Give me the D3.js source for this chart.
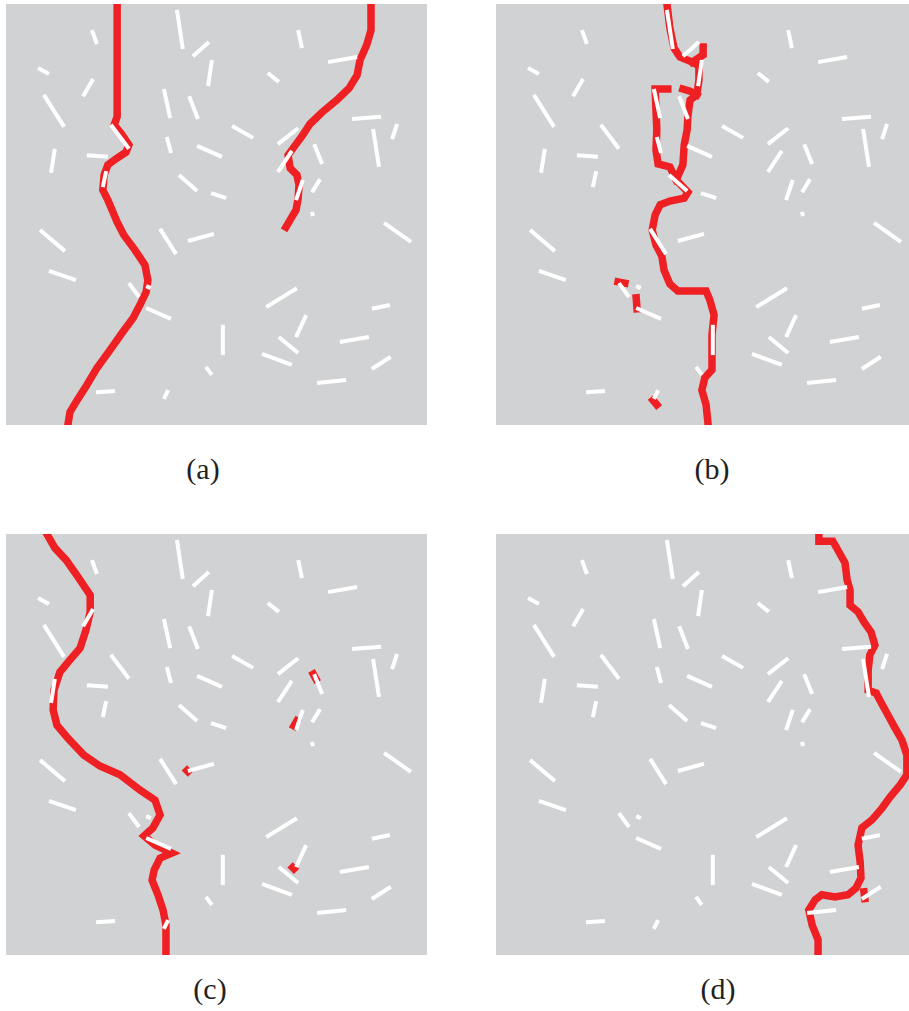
<!DOCTYPE html>
<html>
<head>
<meta charset="utf-8">
<script src="https://cdn.jsdelivr.net/npm/d3@7"></script>
<style>
  body { margin: 0; background: #fff; }
</style>
</head>
<body>
<svg width="909" height="1011"></svg>
<script>
// grid units 0-100 in each panel, [x1, y1, x2, y2]
var segments = [
  [40.6, 1.4, 42.0, 10.7], [20.4, 6.2, 21.6, 9.5], [44.4, 12.4, 48.2, 9.0],
  [48.9, 13.3, 48.0, 19.5], [7.6, 15.2, 10.2, 16.6], [20.7, 17.8, 18.3, 21.9],
  [9.0, 21.6, 13.8, 29.2], [37.5, 20.2, 39.0, 27.1], [43.5, 21.9, 45.6, 27.3],
  [24.9, 28.7, 29.2, 34.4], [38.2, 31.6, 39.2, 35.4], [45.4, 33.7, 51.3, 36.3],
  [11.6, 34.4, 10.7, 40.1], [19.2, 35.9, 24.2, 36.3], [23.8, 39.7, 23.0, 43.5],
  [41.1, 40.6, 45.4, 44.4], [48.7, 44.9, 52.3, 46.1], [69.4, 6.2, 70.3, 10.5],
  [76.5, 13.8, 83.4, 12.6], [62.2, 16.4, 64.8, 18.5], [53.7, 29.0, 58.7, 31.8],
  [64.6, 33.3, 69.4, 29.5], [82.2, 27.3, 89.1, 26.8], [92.9, 28.5, 91.7, 32.1],
  [87.2, 29.7, 88.6, 38.7], [73.2, 33.3, 75.1, 38.0], [67.9, 34.9, 64.6, 39.9],
  [70.5, 41.8, 68.9, 46.6], [74.6, 41.6, 72.7, 44.7], [72.7, 49.4, 72.9, 50.4],
  [8.1, 53.7, 14.0, 58.7], [36.6, 53.4, 40.4, 59.4], [43.2, 56.3, 49.4, 54.6],
  [10.2, 63.4, 16.6, 65.6], [29.2, 66.3, 31.6, 69.6], [33.3, 67.0, 34.4, 67.5],
  [33.3, 72.2, 39.2, 74.8], [47.5, 86.2, 48.9, 88.1], [21.4, 92.2, 25.9, 91.9],
  [38.5, 91.7, 37.5, 93.8], [89.8, 52.0, 96.2, 56.5], [61.8, 72.0, 69.1, 67.5],
  [71.3, 73.9, 68.9, 79.1], [51.5, 76.2, 51.5, 83.4], [64.8, 79.1, 69.4, 82.9],
  [60.8, 83.1, 67.9, 85.7], [79.3, 80.3, 86.2, 79.1], [86.9, 72.4, 91.2, 71.5],
  [86.9, 86.7, 91.4, 83.8], [73.9, 90.0, 80.8, 89.3]
];

var crackA = [
  [[26.4, 0], [26.4, 26.8], [25.7, 28.7], [27.6, 31.1], [29.2, 33.5], [28.5, 35.2],
   [26.4, 36.6], [24.2, 38.2], [23.3, 40.6], [23.0, 44.2], [24.2, 46.6], [25.4, 49.4],
   [26.4, 51.8], [28.0, 54.9], [30.6, 58.4], [33.0, 62.0], [33.7, 65.6], [33.3, 68.4],
   [31.8, 71.5], [30.2, 74.6], [27.6, 78.1], [24.7, 82.2], [21.6, 86.5], [19.2, 90.5],
   [16.9, 94.1], [15.2, 96.9], [14.7, 100]],
  [[86.7, 0], [86.7, 6.2], [85.7, 9.7], [84.1, 13.3], [83.4, 16.9], [81.5, 20.0],
   [78.6, 22.8], [75.1, 25.7], [72.2, 28.5], [70.3, 31.4], [68.6, 33.7], [67.0, 35.9],
   [67.5, 39.0], [69.1, 40.6], [69.6, 43.0], [69.4, 46.1], [68.9, 48.9], [67.5, 51.3],
   [66.5, 53.0]]
];

var crackB = [
  [[40.6, 0], [41.3, 5.7], [42.3, 10.5], [43.7, 12.6], [46.6, 13.8], [48.2, 14.7],
   [48.2, 18.1], [47.7, 21.6], [46.1, 22.8], [45.6, 26.4], [45.4, 29.9], [44.7, 33.5],
   [44.4, 38.2], [42.8, 41.8], [45.6, 44.7], [44.7, 46.1], [41.3, 46.8], [39.0, 47.7],
   [37.8, 50.1], [37.1, 53.7], [38.0, 57.2], [39.4, 59.9], [39.9, 63.2], [41.3, 66.5],
   [43.2, 68.2], [49.9, 68.2], [50.8, 70.3], [51.8, 73.9], [51.3, 78.6], [51.3, 86.9],
   [49.6, 88.8], [48.9, 91.7], [49.9, 95.2], [50.4, 100]],
  [[46.6, 13.8], [49.2, 12.1], [49.2, 10.2]],
  [[40.8, 20.2], [37.8, 20.2], [38.0, 25.2], [38.2, 29.9], [38.0, 34.7], [38.5, 38.0],
   [41.3, 38.7], [42.8, 41.8]],
  [[44.4, 20.2], [46.1, 20.7], [47.7, 21.6]],
  [[29.0, 66.0], [30.6, 66.3]],
  [[33.3, 69.8], [33.5, 72.4]],
  [[37.3, 94.1], [38.2, 95.2]]
];

var crackC = [
  [[9.7, 0], [11.6, 3.3], [14.3, 6.2], [17.3, 10.5], [20.0, 14.5], [20.0, 18.5],
   [19.0, 22.8], [17.6, 27.1], [15.2, 29.9], [12.8, 32.8], [11.4, 37.1], [11.2, 41.8],
   [12.1, 45.4], [14.7, 48.5], [18.5, 52.5], [22.3, 55.1], [27.1, 57.2], [31.8, 60.8],
   [35.4, 63.2], [36.6, 66.7], [34.9, 69.8], [32.8, 71.7], [35.4, 73.9], [39.4, 75.8],
   [36.6, 77.0], [35.2, 79.8], [34.7, 82.2], [36.1, 85.7], [37.3, 89.3], [38.0, 92.9],
   [38.0, 100]],
  [[73.0, 33.3], [73.6, 34.4]],
  [[69.1, 44.4], [68.4, 45.6]],
  [[43.0, 56.2], [43.2, 56.4]],
  [[68.1, 79.2], [68.4, 79.5]]
];

var crackD = [
  [[76.7, 0], [76.7, 1.7], [80.0, 1.7], [81.2, 3.8], [82.9, 6.9], [83.4, 10.9],
   [84.1, 13.3], [84.1, 16.9], [86.0, 18.5], [87.4, 20.9], [89.1, 23.3], [90.0, 26.4],
   [88.8, 28.7], [88.4, 32.3], [88.4, 37.1], [90.3, 37.8], [91.4, 39.9], [93.1, 43.0],
   [94.8, 46.1], [96.4, 48.9], [97.6, 52.5], [97.6, 57.2], [96.0, 59.6], [93.6, 62.5],
   [91.7, 65.1], [89.3, 67.9], [86.9, 69.8], [86.0, 73.9], [86.5, 77.9], [86.7, 81.7],
   [85.5, 84.1], [83.6, 85.7], [80.5, 86.2], [77.4, 85.7], [75.8, 86.9], [74.3, 89.3],
   [75.1, 92.9], [76.5, 96.4], [76.5, 100]],
  [[87.4, 85.0], [87.6, 86.6]]
];

var labels = ["(a)", "(b)", "(c)", "(d)"];
var cracks = [crackA, crackB, crackC, crackD];

var svg = d3.select("svg");
var size = 421;

var x = d3.scaleLinear().domain([0, 100]).range([0, size]);
var y = d3.scaleLinear().domain([0, 100]).range([0, size]);

var line = d3.line()
  .x(function (d) { return x(d[0]); })
  .y(function (d) { return y(d[1]); });

var origins = [[6, 4], [496, 4], [6, 534], [496, 534]];
var labelPos = [[203, 479], [712, 479], [210, 999], [718, 999]];

svg.append("defs").append("clipPath")
  .attr("id", "clip")
  .append("rect")
  .attr("width", size)
  .attr("height", size);

labels.forEach(function (lab, i) {
  var g = svg.append("g")
    .attr("transform", "translate(" + origins[i][0] + "," + origins[i][1] + ")")
    .attr("clip-path", "url(#clip)");

  g.append("rect")
    .attr("width", size)
    .attr("height", size)
    .attr("fill", "#d1d2d4");

  g.selectAll("path.crack")
    .data(cracks[i])
    .enter()
    .append("path")
    .attr("class", "crack")
    .attr("d", line)
    .attr("fill", "none")
    .attr("stroke", "#ee2024")
    .attr("stroke-width", 7.5)
    .attr("stroke-linejoin", "miter")
    .attr("stroke-linecap", "square");

  g.selectAll("line.seg")
    .data(segments)
    .enter()
    .append("line")
    .attr("class", "seg")
    .attr("x1", function (d) { return x(d[0]); })
    .attr("y1", function (d) { return y(d[1]); })
    .attr("x2", function (d) { return x(d[2]); })
    .attr("y2", function (d) { return y(d[3]); })
    .attr("stroke", "#fff")
    .attr("stroke-width", 4);

  svg.append("text")
    .attr("x", labelPos[i][0])
    .attr("y", labelPos[i][1])
    .attr("text-anchor", "middle")
    .attr("font-family", "Liberation Serif, Times New Roman, serif")
    .attr("font-size", 30)
    .attr("fill", "#231f20")
    .text(lab);
});
</script>
</body>
</html>
